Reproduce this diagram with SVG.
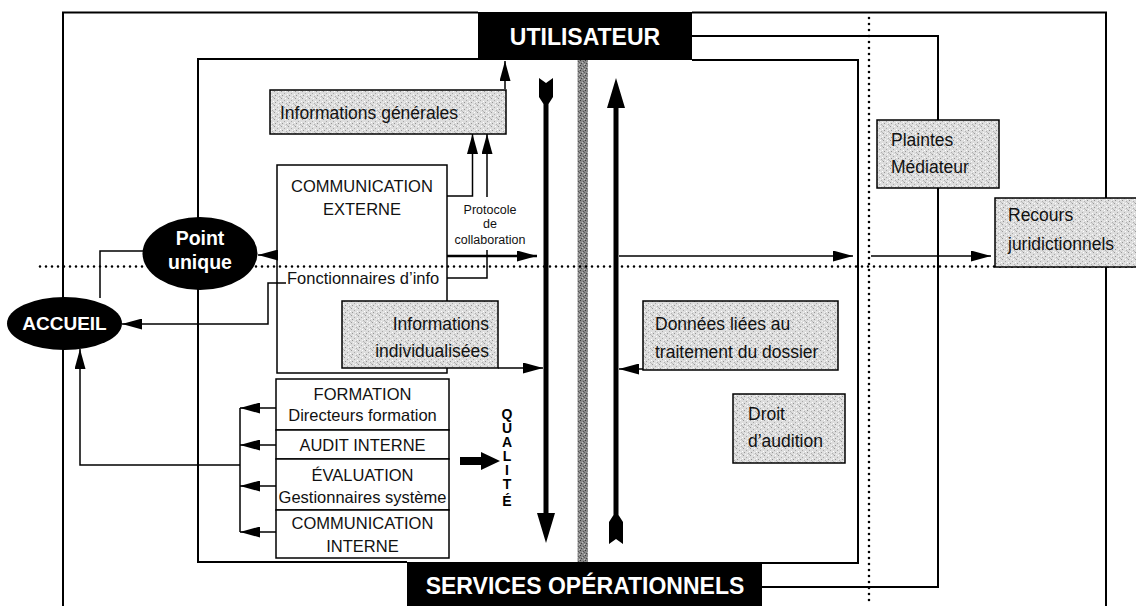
<svg xmlns="http://www.w3.org/2000/svg" width="1136" height="606" viewBox="0 0 1136 606">
<defs>
<style>
.frame{fill:none;stroke:#000;stroke-width:2}
.conn{fill:none;stroke:#000;stroke-width:1.5}
.dots{fill:none;stroke:#000;stroke-width:2.6;stroke-dasharray:0 6;stroke-linecap:round}
.box{stroke:#000;stroke-width:1.5}
.grey{fill:url(#stip)}
.white{fill:#fff}
.t{font-family:"Liberation Sans",Arial,sans-serif;fill:#111}
.lbl{font-size:17.5px}
.caps{font-size:16.5px}
.low{font-size:16.5px}
.small{font-size:12.5px}
.inv{font-family:"Liberation Sans",Arial,sans-serif;font-weight:bold;fill:#fff}
.q{font-family:"Liberation Sans",Arial,sans-serif;font-weight:bold;font-size:14px;fill:#000}
</style>
<pattern id="stip" width="7" height="7" patternUnits="userSpaceOnUse">
<rect width="7" height="7" fill="#dddddd"/>
<rect x="1" y="0" width="1" height="1" fill="#9a9a9a"/>
<rect x="4" y="2" width="1" height="1" fill="#a8a8a8"/>
<rect x="2" y="4" width="1" height="1" fill="#959595"/>
<rect x="6" y="5" width="1" height="1" fill="#b0b0b0"/>
<rect x="0" y="6" width="1" height="1" fill="#bbbbbb"/>
<rect x="0" y="3" width="1" height="1" fill="#ffffff"/>
<rect x="5" y="0" width="1" height="1" fill="#ffffff"/>
<rect x="3" y="6" width="1" height="1" fill="#f4f4f4"/>
<rect x="5" y="4" width="1" height="1" fill="#f0f0f0"/>
</pattern>
<pattern id="band" width="5" height="5" patternUnits="userSpaceOnUse">
<rect width="5" height="5" fill="#8a8a8a"/>
<rect x="0" y="0" width="1" height="1" fill="#3a3a3a"/>
<rect x="3" y="1" width="1" height="1" fill="#555"/>
<rect x="1" y="3" width="1" height="1" fill="#444"/>
<rect x="4" y="4" width="1" height="1" fill="#c8c8c8"/>
<rect x="2" y="2" width="1" height="1" fill="#bdbdbd"/>
<rect x="4" y="2" width="1" height="1" fill="#606060"/>
</pattern>
<marker id="ah" markerUnits="userSpaceOnUse" markerWidth="20" markerHeight="11" refX="20" refY="5.5" orient="auto">
<path d="M0,0 L20,5.5 L0,11 Z" fill="#000"/>
</marker>
</defs>
<rect width="1136" height="606" fill="#fff"/>

<g id="frames">
<path class="frame" d="M478,12.5 H63 V606 M692,12.5 H1106 V198 M1106,267 V606"/>
<path class="frame" d="M478,59 H198 V562 H407 M692,60 H858 V563 H762"/>
</g>

<g id="band-separator">
<rect x="577.5" y="60" width="10.5" height="502" fill="url(#band)"/>
</g>

<g id="communication-externe">
<rect class="box white" x="277" y="165" width="170" height="208"/>
<text class="t caps" x="362" y="192" text-anchor="middle">COMMUNICATION</text>
<text class="t caps" x="362" y="215" text-anchor="middle">EXTERNE</text>
<text class="t low" x="287" y="284">Fonctionnaires d’info</text>
</g>

<g id="dotted-axes">
<path class="dots" d="M40,266.5 H1136"/>
<path class="dots" d="M869,18 V606"/>
</g>

<g id="connectors">
<path class="frame" d="M692,36 H938 V120 M938,188 V587 H762"/>
<path class="conn" d="M447,196 H472.5 V134" marker-end="url(#ah)"/>
<path class="conn" d="M487,197 V134" marker-end="url(#ah)"/>
<path class="conn" d="M447,278 H487 V250"/>
<path class="conn" d="M505,89 V61" marker-end="url(#ah)"/>
<path class="conn" style="stroke-width:2.5" d="M447,256 H537" marker-end="url(#ah)"/>
<path class="conn" d="M278,255 H258" marker-end="url(#ah)"/>
<path class="conn" d="M143,251 H100 V298"/>
<path class="conn" d="M286,283 H268 V324 H122" marker-end="url(#ah)"/>
<path class="conn" d="M498,368 H543" marker-end="url(#ah)"/>
<path class="conn" d="M643,369 H619" marker-end="url(#ah)"/>
<path class="conn" d="M619,256 H853" marker-end="url(#ah)"/>
<path class="conn" d="M871,256 H991" marker-end="url(#ah)"/>
<path class="conn" d="M240,408 V532"/>
<path class="conn" d="M240,465 H80 V349" marker-end="url(#ah)"/>
<path class="conn" d="M276,408 H240" marker-end="url(#ah)"/>
<path class="conn" d="M276,445 H240" marker-end="url(#ah)"/>
<path class="conn" d="M276,486 H240" marker-end="url(#ah)"/>
<path class="conn" d="M276,532 H240" marker-end="url(#ah)"/>
<path d="M460,457 H481 V452 L500,461 L481,470 V465 H460 Z" fill="#000"/>
</g>

<g id="protocole-label">
<text class="t small" x="490" y="214" text-anchor="middle">Protocole</text>
<text class="t small" x="490" y="228" text-anchor="middle">de</text>
<text class="t small" x="490" y="244" text-anchor="middle">collaboration</text>
</g>

<g id="utilisateur">
<rect x="478" y="12" width="214" height="48" fill="#000"/>
<text class="inv" x="585" y="45" font-size="23" text-anchor="middle">UTILISATEUR</text>
</g>

<g id="services-operationnels">
<rect x="407" y="562" width="355" height="50" fill="#000"/>
<text class="inv" x="585" y="594" font-size="23" text-anchor="middle">SERVICES OPÉRATIONNELS</text>
</g>

<g id="informations-generales">
<rect class="box grey" x="270" y="90" width="236" height="44"/>
<text class="t lbl" x="280" y="119">Informations générales</text>
</g>

<g id="informations-individualisees">
<rect class="box grey" x="342" y="301" width="156" height="67"/>
<text class="t lbl" x="489" y="330" text-anchor="end">Informations</text>
<text class="t lbl" x="489" y="357" text-anchor="end">individualisées</text>
</g>

<g id="formation">
<rect class="box white" x="276" y="379" width="173" height="51"/>
<text class="t caps" x="362.5" y="400" text-anchor="middle">FORMATION</text>
<text class="t low" x="362.5" y="421" text-anchor="middle">Directeurs formation</text>
</g>
<g id="audit-interne">
<rect class="box white" x="276" y="430" width="173" height="29"/>
<text class="t caps" x="362.5" y="451" text-anchor="middle">AUDIT INTERNE</text>
</g>
<g id="evaluation">
<rect class="box white" x="276" y="459" width="173" height="51"/>
<text class="t caps" x="362.5" y="481" text-anchor="middle">ÉVALUATION</text>
<text class="t low" x="362.5" y="503" text-anchor="middle">Gestionnaires système</text>
</g>
<g id="communication-interne">
<rect class="box white" x="276" y="510" width="173" height="48"/>
<text class="t caps" x="362.5" y="529" text-anchor="middle">COMMUNICATION</text>
<text class="t caps" x="362.5" y="552" text-anchor="middle">INTERNE</text>
</g>

<g id="qualite">
<text class="q" x="507" y="419" text-anchor="middle">Q</text>
<text class="q" x="507" y="433" text-anchor="middle">U</text>
<text class="q" x="507" y="447" text-anchor="middle">A</text>
<text class="q" x="507" y="461" text-anchor="middle">L</text>
<text class="q" x="507" y="475" text-anchor="middle">I</text>
<text class="q" x="507" y="489" text-anchor="middle">T</text>
<text class="q" x="507" y="506" text-anchor="middle">É</text>
</g>

<g id="donnees-liees">
<rect class="box grey" x="643" y="301" width="195" height="69"/>
<text class="t lbl" x="655" y="330">Données liées au</text>
<text class="t lbl" x="655" y="358">traitement du dossier</text>
</g>

<g id="droit-audition">
<rect class="box grey" x="733" y="394" width="112" height="69"/>
<text class="t lbl" x="748" y="420">Droit</text>
<text class="t lbl" x="748" y="447">d’audition</text>
</g>

<g id="plaintes-mediateur">
<rect class="box grey" x="877" y="120" width="122" height="68"/>
<text class="t lbl" x="891" y="146">Plaintes</text>
<text class="t lbl" x="891" y="173">Médiateur</text>
</g>

<g id="recours-juridictionnels">
<rect class="box grey" x="995" y="198" width="145" height="69"/>
<text class="t lbl" x="1008" y="221">Recours</text>
<text class="t lbl" x="1008" y="250">juridictionnels</text>
</g>

<g id="point-unique">
<ellipse cx="200" cy="253.5" rx="57.5" ry="36.5" fill="#000"/>
<text class="inv" x="200" y="245" font-size="19.5" text-anchor="middle">Point</text>
<text class="inv" x="200" y="269" font-size="19.5" text-anchor="middle">unique</text>
</g>

<g id="accueil">
<ellipse cx="64.5" cy="323.5" rx="57.5" ry="26.5" fill="#000"/>
<text class="inv" x="64.5" y="330" font-size="19" text-anchor="middle">ACCUEIL</text>
</g>

<g id="flux-descendant">
<path d="M539,78 L546,83 L553,78 L553,97 L548.5,104 L548.5,513 L555,513 L546,543 L537,513 L543.5,513 L543.5,104 L539,97 Z" fill="#000"/>
</g>
<g id="flux-montant">
<path d="M616,78 L625,108 L618.5,108 L618.5,515 L623,522 L623,544 L616,539 L609,544 L609,522 L613.5,515 L613.5,108 L607,108 Z" fill="#000"/>
</g>
</svg>
